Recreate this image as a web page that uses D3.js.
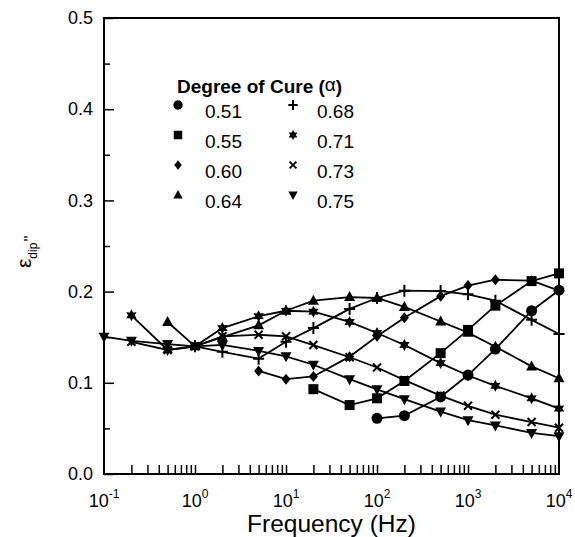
<!DOCTYPE html>
<html>
<head>
<meta charset="utf-8">
<script src="https://cdn.jsdelivr.net/npm/d3@7"></script>
<style>
  body { margin: 0; background: #fff; }
  svg { display: block; font-family: Arial, "Liberation Sans", sans-serif; }
</style>
</head>
<body>
<svg id="chart"></svg>
<script>
// frequencies (Hz) shared by every series, null = no point at that frequency
const freq = [0.1, 0.2, 0.5, 1, 2, 5, 10, 20, 50, 100, 200, 500, 1000, 2000, 5000, 10000];
const cure = ['0.51', '0.55', '0.60', '0.64', '0.68', '0.71', '0.73', '0.75'];
const eps051 = [null, null, null, null, null, null, null, null, null, 0.061, 0.064, 0.0845, 0.1085, 0.137, 0.179, 0.2015];
const eps055 = [null, null, null, null, null, null, null, 0.093, 0.0756, 0.083, 0.102, 0.1325, 0.158, 0.1846, 0.2115, 0.220];
const eps060 = [null, null, null, null, null, 0.113, 0.104, 0.107, 0.1287, 0.151, 0.1714, 0.195, 0.2066, 0.213, 0.212, 0.201];
const eps064 = [null, null, 0.1667, 0.140, 0.150, 0.163, 0.179, 0.190, 0.194, 0.193, 0.1832, 0.1672, 0.155, 0.1396, 0.118, 0.105];
const eps068 = [null, null, null, 0.140, 0.134, 0.1265, 0.145, 0.160, 0.181, 0.193, 0.201, 0.2006, 0.197, 0.190, 0.169, 0.1535];
const eps071 = [null, 0.174, 0.136, 0.140, 0.160, 0.173, 0.179, 0.178, 0.1667, 0.1546, 0.1415, 0.1216, 0.108, 0.0967, 0.083, 0.0717];
const eps073 = [null, 0.145, 0.136, 0.140, 0.151, 0.1527, 0.151, 0.1414, 0.128, 0.1168, 0.103, 0.086, 0.0748, 0.065, 0.057, 0.0508];
const eps075 = [0.1506, 0.146, 0.1425, 0.140, 0.1415, 0.135, 0.129, 0.1198, 0.104, 0.0928, 0.082, 0.0685, 0.059, 0.0533, 0.045, 0.0415];
const yMajor = [0, 0.1, 0.2, 0.3, 0.4, 0.5];
const yMinor = [0.05, 0.15, 0.25, 0.35, 0.45];
const decades = [-1, 0, 1, 2, 3, 4];

(function() {
  const width = 575;
  const height = 537;
  const margin = { left: 104, right: 16, top: 18, bottom: 63 };

  const series = [eps051, eps055, eps060, eps064, eps068, eps071, eps073, eps075];
  const markers = ['circle', 'square', 'diamond', 'triangle', 'plus', 'star', 'times', 'tridown'];

  const svg = d3.select('#chart').attr('width', width).attr('height', height);

  const x = d3.scaleLog().domain([0.1, 1e4]).range([margin.left, width - margin.right]);
  const y = d3.scaleLinear().domain([0, 0.5]).range([height - margin.bottom, margin.top]);

  // x ticks: every 1..9 multiple, pointing inward
  const xTickVals = [];
  decades.forEach(function(e) {
    for (let m = 1; m < 10; m++) {
      const v = m * Math.pow(10, e);
      if (v > 0.1 && v < 1e4) xTickVals.push(v);
    }
  });

  const xAxis = svg.append('g')
    .attr('transform', 'translate(0,' + y(0) + ')')
    .call(d3.axisBottom(x).tickValues(xTickVals).tickSize(-9).tickFormat(function() { return ''; }));
  xAxis.select('.domain').remove();
  xAxis.selectAll('line').attr('stroke', '#000').attr('stroke-width', 1.5);

  const yAxis = svg.append('g')
    .attr('transform', 'translate(' + x(0.1) + ',0)')
    .call(d3.axisLeft(y).tickValues(yMajor).tickSize(-10).tickPadding(11).tickFormat(d3.format('.1f')));
  yAxis.select('.domain').remove();
  yAxis.selectAll('line').attr('stroke', '#000').attr('stroke-width', 1.5);
  yAxis.selectAll('text').attr('font-size', 18).attr('fill', '#000')
    .attr('font-family', 'Arial, "Liberation Sans", sans-serif');

  const yMinorAxis = svg.append('g')
    .attr('transform', 'translate(' + x(0.1) + ',0)')
    .call(d3.axisLeft(y).tickValues(yMinor).tickSize(-6).tickFormat(function() { return ''; }));
  yMinorAxis.select('.domain').remove();
  yMinorAxis.selectAll('line').attr('stroke', '#000').attr('stroke-width', 1.5);

  // decade labels 10^n
  const xLab = svg.append('g').attr('class', 'x-labels');
  decades.forEach(function(e) {
    const t = xLab.append('text')
      .attr('x', x(Math.pow(10, e)))
      .attr('y', 507)
      .attr('text-anchor', 'middle')
      .attr('font-size', 18);
    t.append('tspan').text('10');
    t.append('tspan').attr('font-size', 12).attr('dy', -9).text(e);
  });

  // frame
  svg.append('rect')
    .attr('x', x(0.1)).attr('y', y(0.5))
    .attr('width', x(1e4) - x(0.1)).attr('height', y(0) - y(0.5))
    .attr('fill', 'none').attr('stroke', '#000').attr('stroke-width', 2);

  // axis titles
  svg.append('text')
    .attr('x', (x(0.1) + x(1e4)) / 2)
    .attr('y', 532)
    .attr('text-anchor', 'middle')
    .attr('font-size', 24.5)
    .text('Frequency (Hz)');

  const yTitle = svg.append('text')
    .attr('transform', 'translate(31,268) rotate(-90)')
    .attr('font-size', 21);
  yTitle.append('tspan').text('ε');
  yTitle.append('tspan').attr('font-size', 12).attr('dy', 6).text('dip');
  yTitle.append('tspan').attr('font-size', 17).attr('dy', -1).attr('dx', 1).text('"');

  function markerPath(type, s) {
    const p = d3.path();
    if (type === 'circle') {
      p.arc(0, 0, s * 0.55, 0, 2 * Math.PI);
    } else if (type === 'square') {
      p.rect(-s * 0.5, -s * 0.5, s, s);
    } else if (type === 'diamond') {
      p.moveTo(0, -s * 0.55); p.lineTo(s * 0.45, 0); p.lineTo(0, s * 0.55); p.lineTo(-s * 0.45, 0); p.closePath();
    } else if (type === 'triangle') {
      p.moveTo(0, -s * 0.6); p.lineTo(s * 0.55, s * 0.4); p.lineTo(-s * 0.55, s * 0.4); p.closePath();
    } else if (type === 'tridown') {
      p.moveTo(0, s * 0.6); p.lineTo(s * 0.55, -s * 0.4); p.lineTo(-s * 0.55, -s * 0.4); p.closePath();
    } else if (type === 'plus') {
      p.moveTo(-s * 0.55, 0); p.lineTo(s * 0.55, 0); p.moveTo(0, -s * 0.6); p.lineTo(0, s * 0.6);
    } else if (type === 'times') {
      p.moveTo(-s * 0.4, -s * 0.4); p.lineTo(s * 0.4, s * 0.4); p.moveTo(s * 0.4, -s * 0.4); p.lineTo(-s * 0.4, s * 0.4);
    } else if (type === 'star') {
      for (let i = 0; i < 12; i++) {
        const r = (i % 2 === 0) ? s * 0.6 : s * 0.33;
        const a = -Math.PI / 2 + i * Math.PI / 6;
        if (i === 0) p.moveTo(r * Math.cos(a), r * Math.sin(a));
        else p.lineTo(r * Math.cos(a), r * Math.sin(a));
      }
      p.closePath();
    }
    return p.toString();
  }

  function drawMarker(g, type, s) {
    const stroked = (type === 'plus' || type === 'times');
    g.append('path')
      .attr('d', markerPath(type, s))
      .attr('fill', stroked ? 'none' : '#000')
      .attr('stroke', stroked ? '#000' : 'none')
      .attr('stroke-width', stroked ? 2 : 0);
  }

  const line = d3.line()
    .defined(function(d) { return d[1] !== null; })
    .x(function(d) { return x(d[0]); })
    .y(function(d) { return y(d[1]); });

  const lines = svg.append('g').attr('class', 'lines');
  const points = svg.append('g').attr('class', 'points');

  series.forEach(function(vals, i) {
    const pts = freq.map(function(f, j) { return [f, vals[j]]; });
    lines.append('path')
      .datum(pts)
      .attr('d', line)
      .attr('fill', 'none')
      .attr('stroke', '#000')
      .attr('stroke-width', 1.8);

    pts.filter(function(d) { return d[1] !== null; }).forEach(function(d) {
      const g = points.append('g').attr('transform', 'translate(' + x(d[0]) + ',' + y(d[1]) + ')');
      drawMarker(g, markers[i], 10);
    });
  });

  // legend
  const legend = svg.append('g').attr('class', 'legend');
  const legendTitle = legend.append('text')
    .attr('x', 177).attr('y', 93)
    .attr('font-size', 19).attr('font-weight', 'bold');
  legendTitle.append('tspan').text('Degree of Cure (');
  legendTitle.append('tspan').attr('font-weight', 'normal').attr('font-size', 19).attr('dy', -2).text('α');
  legendTitle.append('tspan').attr('dy', 2).text(')');

  cure.forEach(function(c, i) {
    const col = Math.floor(i / 4);
    const row = i % 4;
    const sx = col === 0 ? 178 : 293;
    const tx = col === 0 ? 205 : 317;
    const base = 118 + row * 30;
    const g = legend.append('g').attr('transform', 'translate(' + sx + ',' + (base - 13) + ')');
    drawMarker(g, markers[i], 8.5);
    legend.append('text').attr('x', tx).attr('y', base).attr('font-size', 19).text(c);
  });
})();
</script>
</body>
</html>
